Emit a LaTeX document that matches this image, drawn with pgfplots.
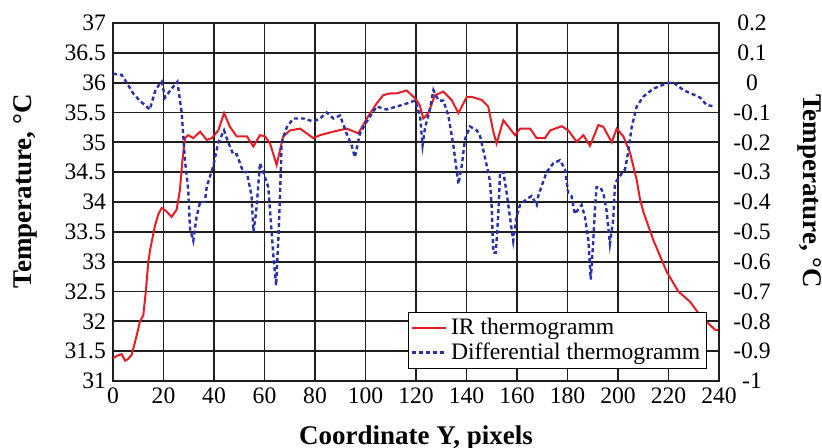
\documentclass[border=0pt]{standalone}
\usepackage{fontspec}
\setmainfont{Liberation Serif}
\usepackage{pgfplots}
\pgfplotsset{compat=1.18}

\definecolor{irred}{RGB}{232,28,36}
\definecolor{difblue}{RGB}{40,48,170}
\definecolor{gridc}{RGB}{30,30,30}

\pgfplotsset{
  common/.style={
    scale only axis,
    width=303pt, height=179pt,
    xmin=0, xmax=240,
    /pgf/number format/assume math mode=true,
    tick label style={font=\fontsize{11.8}{13}\selectfont},
    label style={font=\fontsize{13.5}{16}\selectfont\bfseries},
    major tick length=0pt,
  },
}

\begin{document}
\begin{tikzpicture}
  \begin{axis}[
      common,
      name=ax,
      ymin=31, ymax=37,
      xtick distance=20,
      ytick distance=0.5,
      grid=major,
      major grid style={gridc, line width=0.9pt},
      axis line style={gridc, line width=0.9pt},
      xlabel={Coordinate Y, pixels},
      ylabel={Temperature, °C},
      xlabel style={at={(axis description cs:0.5,-0.158)}, anchor=center},
      ylabel style={at={(axis description cs:-0.145,0.53)}, anchor=center, rotate=0},
    ]
    \addplot[irred, line width=1pt] coordinates {
      (0,31.38) (1.5,31.42) (3.4,31.45) (4.8,31.34) (6,31.37) (7.4,31.44)
      (9,31.7) (10.7,32.0) (12,32.1) (13,32.5) (14,33.0) (14.7,33.2)
      (16.6,33.6) (18,33.8) (19.3,33.9) (21,33.85) (23.2,33.75) (25.2,33.87)
      (26.5,34.2) (27.5,34.7) (28.5,35.07) (29.8,35.12) (31.8,35.07) (34.5,35.18)
      (37.1,35.04) (39.1,35.07) (41.7,35.2) (44,35.49) (46.3,35.26) (49,35.1)
      (53,35.1) (55.6,34.93) (58.2,35.12) (60.2,35.1) (62.2,34.98) (64.8,34.62)
      (67.4,35.1) (70.1,35.2) (74.1,35.23) (79.3,35.07) (82,35.12) (87.3,35.18)
      (92.5,35.23) (97.2,35.15) (100.5,35.4) (104.4,35.65) (107,35.79) (109.7,35.82)
      (112.3,35.82) (116.3,35.87) (119.6,35.74) (121.5,35.62) (122.9,35.4) (124.9,35.49)
      (127.5,35.79) (130.8,35.85) (134.1,35.71) (136.8,35.49) (140.1,35.76) (142.1,35.76)
      (146,35.71) (148.6,35.6) (150.5,35.2) (151.9,34.98) (154.6,35.37) (157.2,35.23)
      (159.2,35.12) (161.2,35.23) (165.2,35.23) (167.8,35.07) (171.1,35.07) (173.1,35.2)
      (177.7,35.27) (180.3,35.2) (183.6,35.01) (186.3,35.12) (188.9,34.94) (192.2,35.29)
      (194.2,35.26) (197.5,35.0) (199.5,35.23) (202.1,35.1) (204.8,34.82) (207.4,34.37)
      (208.7,34.05) (210,33.84) (214,33.36) (219.3,32.83) (223.9,32.5) (228.5,32.33)
      (232.5,32.1) (236.4,31.94) (238.4,31.86) (240,31.85)
    };
  \end{axis}
  \begin{axis}[
      common,
      axis x line=none,
      axis y line*=right,
      axis line style={gridc, line width=0.9pt},
      ymin=-1, ymax=0.2,
      ytick={-1,-0.9,-0.8,-0.7,-0.6,-0.5,-0.4,-0.3,-0.2,-0.1,0,0.1,0.2},
      yticklabels={-1,-0.9,-0.8,-0.7,-0.6,-0.5,-0.4,-0.3,-0.2,-0.1,0,0.1,0.2},
      yticklabel style={anchor=center, xshift=16.5pt},
      ylabel={Temperature, °C},
      ylabel style={at={(axis description cs:1.15,0.53)}, anchor=center, rotate=180},
      legend style={at={(axis description cs:0.98,0.034)}, anchor=south east,
        draw=black, line width=0.6pt, font=\fontsize{11.8}{13}\selectfont,
        inner sep=1pt, row sep=-1.5pt},
      legend cell align=left,
    ]
    \addlegendimage{irred, line width=1pt}
    \addlegendentry{IR thermogramm}
    \addplot[difblue, line width=1.2pt, dash pattern=on 2pt off 1.5pt] coordinates {
      (0,0.03) (3.4,0.026) (5.4,0.0) (8,-0.036) (10.5,-0.06) (13.3,-0.08) (14.6,-0.09)
      (16.6,-0.03) (18,-0.01) (19.3,0.003) (20.6,-0.05) (23.2,-0.02) (25.5,0.003)
      (27.2,-0.1) (28.5,-0.26) (29.8,-0.36) (30.5,-0.49) (31.8,-0.53) (33.1,-0.45)
      (34.5,-0.40) (36.4,-0.40) (37.1,-0.35) (39.7,-0.28) (41.7,-0.2) (44,-0.16)
      (45.6,-0.2) (47.6,-0.24) (49,-0.24) (51.6,-0.3) (53,-0.3) (54.9,-0.38)
      (55.6,-0.50) (56.6,-0.44) (57.4,-0.36) (58.2,-0.27) (59.5,-0.3) (61.5,-0.35)
      (62.2,-0.43) (63.5,-0.58) (64.6,-0.68) (65.5,-0.52) (66.1,-0.39) (66.8,-0.2)
      (68.8,-0.15) (71.4,-0.12) (75.4,-0.12) (79.3,-0.13) (82,-0.12) (84.6,-0.10)
      (87.3,-0.12) (89.9,-0.11) (92.5,-0.17) (94.5,-0.21) (95.8,-0.25) (97.8,-0.17)
      (100.5,-0.13) (104.4,-0.08) (108.3,-0.09) (112.3,-0.08) (116.3,-0.07) (119.6,-0.06)
      (121.6,-0.11) (122.6,-0.21) (123.6,-0.15) (125.5,-0.09) (126.9,-0.025) (128.9,-0.06)
      (130.8,-0.06) (132.8,-0.11) (134.8,-0.21) (136.8,-0.34) (138.1,-0.28) (139.4,-0.19)
      (141.4,-0.147) (144.1,-0.16) (145.4,-0.18) (147.3,-0.25) (149.3,-0.33) (150,-0.42)
      (150.6,-0.57) (151.6,-0.57) (152.6,-0.44) (153.3,-0.30) (154.6,-0.30) (155.9,-0.37)
      (157.2,-0.45) (158.5,-0.53) (159.8,-0.45) (161.2,-0.41) (163.8,-0.39) (165.8,-0.38)
      (167.8,-0.41) (168.4,-0.38) (171.7,-0.30) (174.4,-0.27) (177,-0.26) (179,-0.29)
      (180.3,-0.37) (181.6,-0.38) (182.9,-0.44) (185.6,-0.41) (186.9,-0.45) (188.3,-0.53)
      (189.2,-0.66) (190.2,-0.53) (190.9,-0.42) (191.5,-0.35) (192.9,-0.35) (194.2,-0.37)
      (195.5,-0.43) (196.8,-0.54) (198.1,-0.46) (198.8,-0.34) (200.1,-0.32) (202.8,-0.29)
      (204.1,-0.23) (205.4,-0.15) (207.4,-0.08) (210,-0.047) (214,-0.02) (219.3,-0.002)
      (222,0.0) (225.9,-0.025) (229.9,-0.04) (232.5,-0.05) (235.1,-0.075) (238.4,-0.08)
    };
    \addlegendentry{Differential thermogramm}
  \end{axis}
  \pgfresetboundingbox
  \path[use as bounding box] ([shift={(-56.5pt,-33.5pt)}]ax.south west) rectangle ([shift={(51.5pt,11.5pt)}]ax.north east);
\end{tikzpicture}
\end{document}
